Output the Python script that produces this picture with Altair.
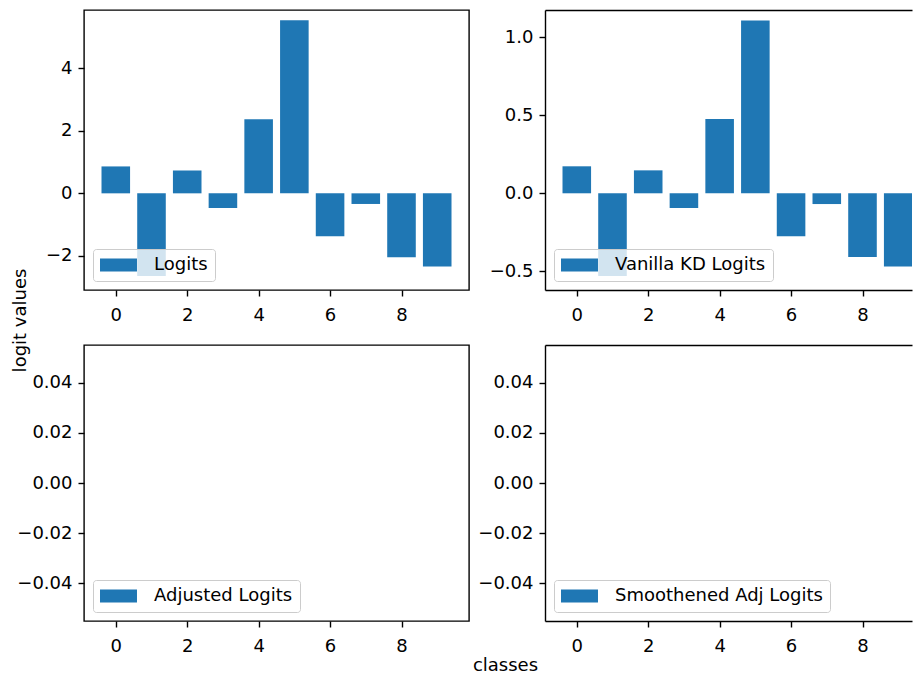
import altair as alt
import pandas as pd

classes = list(range(10))
logits = [0.86, -2.64, 0.73, -0.47, 2.37, 5.53, -1.37, -0.34, -2.04, -2.34]
vanilla_kd = [0.173, -0.53, 0.147, -0.094, 0.476, 1.107, -0.276, -0.069, -0.408, -0.47]
adjusted = [0.0] * 10
smoothed = [0.0] * 10

labels = ["Logits", "Vanilla KD Logits", "Adjusted Logits", "Smoothened Adj Logits"]
x_ticks = [0, 2, 4, 6, 8]
y_ticks_tl = [-2, 0, 2, 4]
y_ticks_tr = [-0.5, 0.0, 0.5, 1.0]
y_ticks_b = [-0.04, -0.02, 0.0, 0.02, 0.04]

BLUE = "#1f77b4"
FONT = "DejaVu Sans"
PATCH = "M-1,-0.72L3.11,-0.72L3.11,0.72L-1,0.72Z"

H_TOP = 280
H_BOT = 276
FRAME = dict(domain=True, domainColor="#000", domainWidth=1.4)


def panel(values, label, xdom, ydom, yticks, yfmt, width, height,
          xtitle=None, ytitle=None, open_right=False):
    df = pd.DataFrame({"cls": classes, "val": values, "series": [label] * len(values)})
    xaxis_kw = dict(values=x_ticks, format="d", title=xtitle, labelPadding=10)
    if xtitle:
        xaxis_kw.update(titleX=421, titleY=49, titleAlign="center",
                        titleBaseline="alphabetic", titleFontSize=18,
                        titleFontWeight="normal", titleColor="#000")
    yaxis_kw = dict(values=yticks, format=yfmt, title=ytitle)
    if ytitle:
        yaxis_kw.update(titleX=-64, titleY=-25, titleAlign="center",
                        titleBaseline="middle", titleAngle=270, titleFontSize=18,
                        titleFontWeight="normal", titleColor="#000")
    if open_right:
        xaxis_kw.update(FRAME)
        yaxis_kw.update(FRAME)
    xscale = alt.Scale(domain=xdom, nice=False, zero=False)
    base = alt.Chart(df).transform_calculate(x0="datum.cls - 0.4", x1="datum.cls + 0.4")
    bars = base.mark_bar(strokeWidth=0, clip=True).encode(
        x=alt.X("x0:Q", scale=xscale, axis=alt.Axis(**xaxis_kw)),
        x2="x1:Q",
        y=alt.Y("val:Q", scale=alt.Scale(domain=ydom, nice=False, zero=False),
                axis=alt.Axis(**yaxis_kw)),
        y2=alt.datum(0),
        color=alt.Color(
            "series:N",
            scale=alt.Scale(domain=[label], range=[BLUE]),
            legend=alt.Legend(
                title=None, orient="bottom-left", offset=9, padding=7,
                fillColor="rgba(255,255,255,0.8)", strokeColor="#cccccc",
                cornerRadius=3, symbolType=PATCH, symbolSize=324,
                symbolStrokeWidth=0, labelFontSize=18, labelOffset=36,
                labelLimit=400, labelColor="#000", labelFont=FONT, zindex=1,
            ),
        ),
    )
    if not open_right:
        return bars.properties(width=width, height=height)
    # right-hand panels run off the picture's right edge: frame on three sides only
    top_edge = base.mark_bar(opacity=0, clip=True).encode(
        x=alt.X("x0:Q", scale=xscale,
                axis=alt.Axis(orient="top", labels=False, ticks=False, title=None, **FRAME)),
        x2="x1:Q",
    )
    return (
        alt.layer(bars, top_edge)
        .resolve_axis(x="independent")
        .properties(width=width, height=height,
                    view=alt.ViewBackground(stroke="transparent"))
    )


WL = 385
WR = 367
xdom_l = [-0.89, 9.89]
xdom_r = [-0.89, -0.89 + WR * (10.78 / WL)]

tl = panel(logits, labels[0], xdom_l, [-3.09, 5.86], y_ticks_tl, "d", WL, H_TOP)
tr = panel(vanilla_kd, labels[1], xdom_r, [-0.62, 1.175], y_ticks_tr, ".1f", WR, H_TOP,
           open_right=True)
bl = panel(adjusted, labels[2], xdom_l, [-0.055, 0.055], y_ticks_b, ".2f", WL, H_BOT,
           xtitle="classes", ytitle="logit values")
br = panel(smoothed, labels[3], xdom_r, [-0.055, 0.055], y_ticks_b, ".2f", WR, H_BOT,
           open_right=True)

chart = (
    alt.concat(tl, tr, bl, br, columns=2, spacing={"row": 55, "column": 76}, bounds="flush")
    .resolve_scale(color="independent")
    .properties(padding={"left": 2, "top": 1, "right": 0, "bottom": 0})
    .configure(font=FONT)
    .configure_view(stroke="#000", strokeWidth=1.4)
    .configure_axis(
        domain=False, grid=False, ticks=True, tickColor="#000", tickSize=6,
        tickWidth=1.4, labelFontSize=18, labelColor="#000", labelPadding=6,
        labelFont=FONT,
    )
)

chart.save("out.html", embed_options={"renderer": "svg", "actions": False})
